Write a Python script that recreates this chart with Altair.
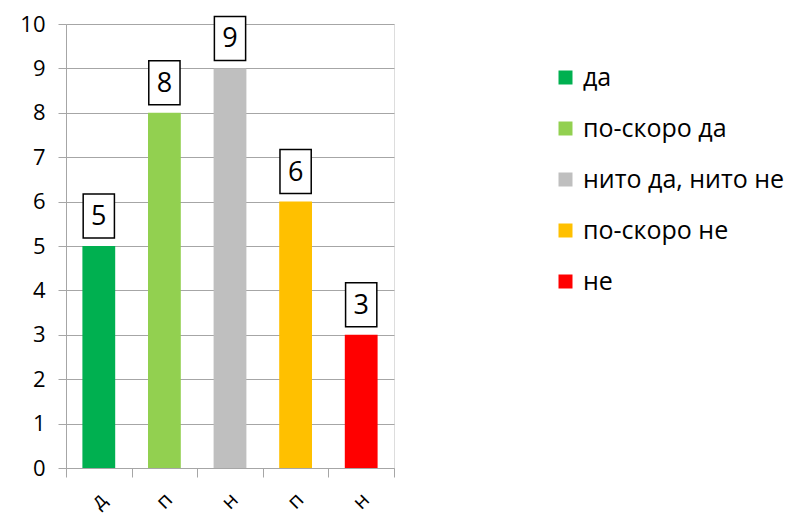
import altair as alt
import pandas as pd

categories = ["да", "по-скоро да", "нито да, нито не", "по-скоро не", "не"]
values = [5, 8, 9, 6, 3]
colors = ["#00B050", "#92D050", "#BFBFBF", "#FFC000", "#FF0000"]
y_ticks = list(range(0, 11))

df = pd.DataFrame({"cat": categories, "val": values})

FONT = "Open Sans"
GRID = "#a6a6a6"

x_enc = alt.X(
    "cat:N",
    sort=categories,
    title=None,
    scale=alt.Scale(paddingInner=0, paddingOuter=0),
    axis=alt.Axis(
        labelExpr="substring(datum.label, 0, 1)",
        labelAngle=-45,
        labelAlign="center",
        labelBaseline="middle",
        labelFontSize=21,
        labelFont=FONT,
        labelColor="#000000",
        labelPadding=24,
        tickBand="extent",
        tickSize=9,
        tickColor=GRID,
        domainColor=GRID,
        grid=False,
    ),
)

y_enc = alt.Y(
    "val:Q",
    title=None,
    scale=alt.Scale(domain=[0, 10], nice=False),
    axis=alt.Axis(
        values=y_ticks,
        labelFontSize=22,
        labelFont=FONT,
        labelColor="#000000",
        labelPadding=13,
        tickSize=8,
        tickColor=GRID,
        domainColor=GRID,
        gridColor=GRID,
        grid=True,
    ),
)

color_enc = alt.Color(
    "cat:N",
    sort=categories,
    scale=alt.Scale(domain=categories, range=colors),
    legend=alt.Legend(
        title=None,
        orient="none",
        legendX=487,
        legendY=41,
        symbolType="square",
        symbolSize=196,
        symbolStrokeWidth=0,
        symbolOpacity=1,
        labelFontSize=25,
        labelFont=FONT,
        labelColor="#000000",
        labelOffset=5,
        rowPadding=25,
        labelLimit=400,
    ),
)

bars = alt.Chart(df).mark_bar(width=alt.RelativeBandSize(0.5)).encode(
    x=x_enc, y=y_enc, color=color_enc
)

box_shape = "M-0.71,-1L0.71,-1L0.71,1L-0.71,1Z"
boxes = alt.Chart(df).mark_point(
    shape=box_shape,
    size=1936,
    filled=False,
    fill="#ffffff",
    fillOpacity=1,
    stroke="#000000",
    strokeWidth=1.5,
    opacity=1,
    yOffset=-30,
).encode(x=alt.X("cat:N", sort=categories), y="val:Q")

labels = alt.Chart(df).mark_text(
    font=FONT,
    fontSize=27,
    color="#000000",
    baseline="middle",
    align="center",
    yOffset=-29,
).encode(x=alt.X("cat:N", sort=categories), y="val:Q", text="val:Q")

chart = (
    alt.layer(bars, boxes, labels)
    .properties(
        width=328,
        height=444,
        autosize=alt.AutoSizeParams(type="none"),
        padding={"left": 58, "top": 16, "right": 390, "bottom": 46},
    )
    .configure_view(stroke=None)
    .configure(background="#ffffff")
)

chart.save("out.html", embed_options={"renderer": "svg", "actions": False})
